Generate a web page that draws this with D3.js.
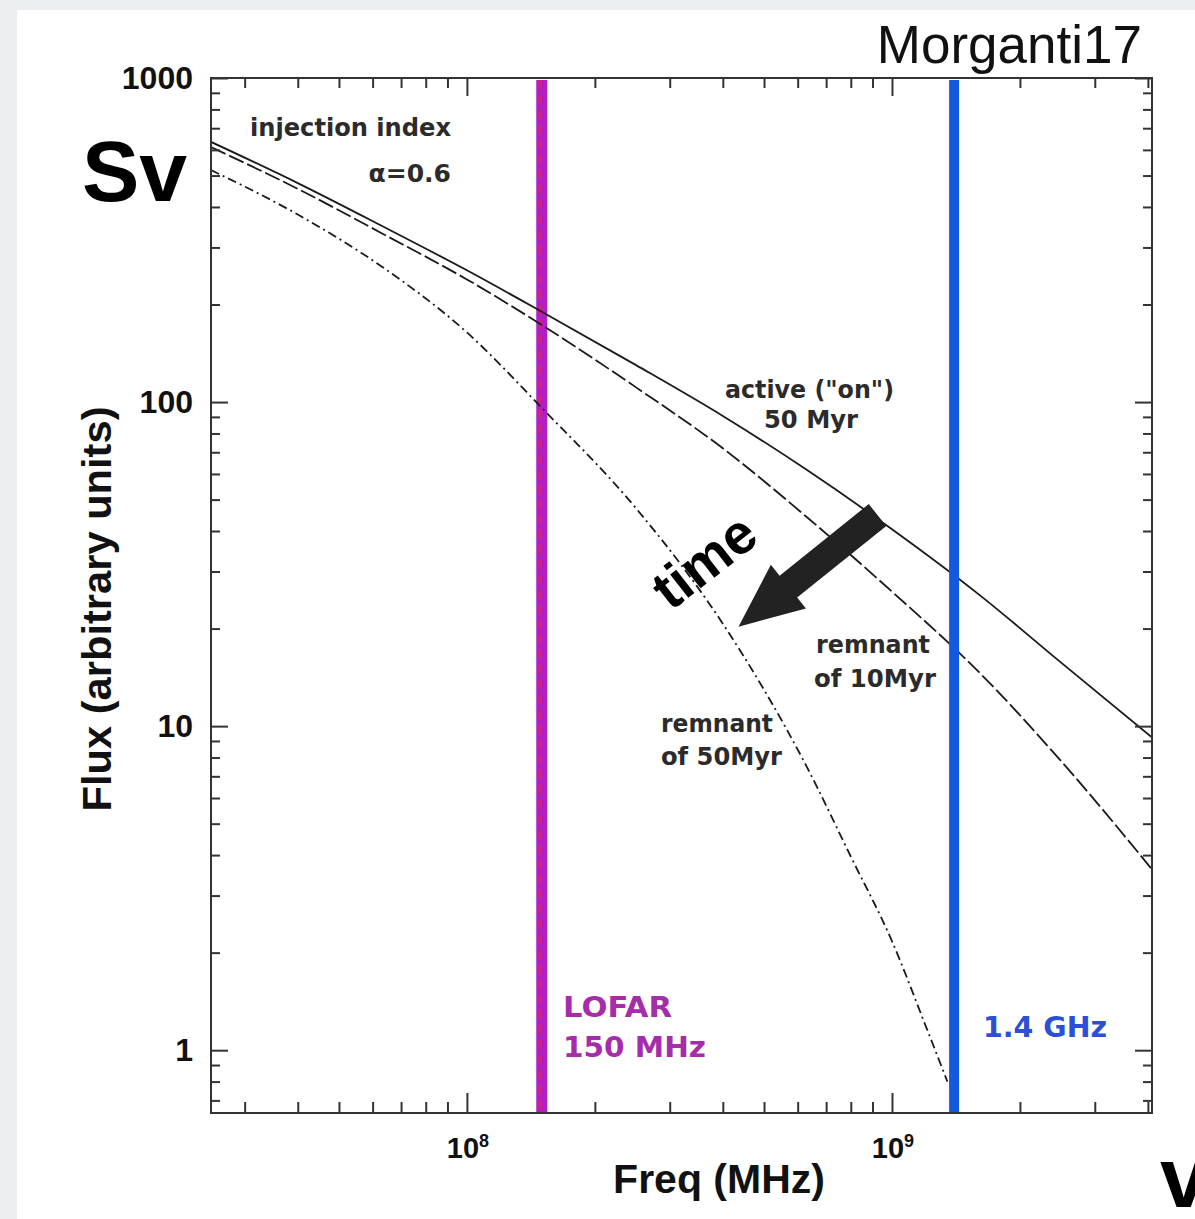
<!DOCTYPE html>
<html><head><meta charset="utf-8">
<script src="https://cdn.jsdelivr.net/npm/d3@7"></script>
<style>body{margin:0;background:#eceef1;} svg{display:block}</style>
</head><body><svg id="c" width="1195" height="1219"></svg>
<script>
// ---------- data ----------
const freqActive = [2.5e7, 4e7, 6.3e7, 1e8, 1.5e8, 2.5e8, 4e8, 6.3e8, 1e9, 1.6e9, 2.5e9, 4.1e9];
const fluxActive = [635, 474, 350, 255, 190, 130, 90.6, 61.8, 40.5, 25.5, 15.7, 9.2];
const freqRem10 = [2.5e7, 4e7, 6.3e7, 1e8, 1.5e8, 2.5e8, 4e8, 6.3e8, 1e9, 1.6e9, 2.5e9, 4.1e9];
const fluxRem10 = [612, 455, 332, 239, 173, 111, 72, 44.2, 26, 14.7, 7.8, 3.6];
const freqRem50 = [2.5e7, 4e7, 6.3e7, 1e8, 1.5e8, 2.5e8, 4e8, 6.3e8, 8e8, 1e9, 1.2e9, 1.35e9];
const fluxRem50 = [520, 379, 262, 164, 96, 47, 20.7, 7.5, 3.96, 2.17, 1.19, 0.8];
const markerFreqs = [1.5e8, 1.4e9];
const xDomain = [2.5e7, 4.09e9];
const yDomain = [0.64, 1000];
const xMajorTicks = [1e8, 1e9];
const xMajorExp = ["8", "9"];
const yMajorTicks = [1, 10, 100, 1000];
const yMajorLabels = ["1", "10", "100", "1000"];

// ---------- layout ----------
const W = 1195, H = 1219;
const P = {left: 211, top: 78, right: 1152, bottom: 1113};
const svg = d3.select('#c');
svg.append('rect').attr('width', W).attr('height', H).attr('fill', '#eceef1');
svg.append('rect').attr('x', 17).attr('y', 10).attr('width', W - 17).attr('height', H - 10).attr('fill', '#fff');

const x = d3.scaleLog().domain(xDomain).range([P.left, P.right]);
const y = d3.scaleLog().domain(yDomain).range([P.bottom, P.top]);

svg.append('clipPath').attr('id', 'clip').append('rect')
  .attr('x', P.left).attr('y', P.top).attr('width', P.right - P.left).attr('height', P.bottom - P.top);

// LOFAR band (under curves)
const lofarX = x(markerFreqs[0]);
svg.append('line').attr('x1', lofarX).attr('x2', lofarX).attr('y1', P.top + 2).attr('y2', P.bottom)
  .attr('stroke', '#b11fc4').attr('stroke-width', 11);
svg.append('line').attr('x1', lofarX - 2).attr('x2', lofarX - 2).attr('y1', P.top + 2).attr('y2', P.bottom)
  .attr('stroke', '#e4235c').attr('stroke-width', 2).attr('stroke-dasharray', '9,6');

// curves
const line = d3.line().x(d => x(d[0])).y(d => y(d[1])).curve(d3.curveMonotoneX);
const series = [
  {f: freqActive, v: fluxActive, dash: null},
  {f: freqRem10, v: fluxRem10, dash: '16,4'},
  {f: freqRem50, v: fluxRem50, dash: '9,4,2,4'}
];
const cg = svg.append('g').attr('clip-path', 'url(#clip)');
series.forEach(s => {
  cg.append('path').datum(s.f.map((f, i) => [f, s.v[i]]))
    .attr('d', line).attr('fill', 'none').attr('stroke', '#1a1a1a').attr('stroke-width', 1.8)
    .attr('stroke-dasharray', s.dash);
});

// 1.4 GHz band (over curves)
const ghzX = x(markerFreqs[1]);
svg.append('line').attr('x1', ghzX).attr('x2', ghzX).attr('y1', P.top + 2).attr('y2', P.bottom)
  .attr('stroke', '#1259e2').attr('stroke-width', 10);

// ---------- axes ----------
const isMajor = v => Math.abs(Math.log10(v) - Math.round(Math.log10(v))) < 1e-9;
const xMinor = x.ticks().filter(v => !isMajor(v));
const yMinor = y.ticks().filter(v => !isMajor(v));

function styleAxis(g) {
  g.select('.domain').remove();
  g.selectAll('line').attr('stroke', '#333').attr('stroke-width', 2);
  return g;
}
styleAxis(svg.append('g').attr('transform', `translate(0,${P.bottom})`).call(d3.axisBottom(x).tickValues(xMinor).tickSize(-11).tickFormat('')));
styleAxis(svg.append('g').attr('transform', `translate(0,${P.bottom})`).call(d3.axisBottom(x).tickValues(xMajorTicks).tickSize(-20).tickFormat('')));
styleAxis(svg.append('g').attr('transform', `translate(0,${P.top})`).call(d3.axisTop(x).tickValues(xMinor).tickSize(-10).tickFormat('')));
styleAxis(svg.append('g').attr('transform', `translate(0,${P.top})`).call(d3.axisTop(x).tickValues(xMajorTicks).tickSize(-18).tickFormat('')));
styleAxis(svg.append('g').attr('transform', `translate(${P.left},0)`).call(d3.axisLeft(y).tickValues(yMinor).tickSize(-9).tickFormat('')));
const yl = styleAxis(svg.append('g').attr('transform', `translate(${P.left},0)`)
  .call(d3.axisLeft(y).tickValues(yMajorTicks).tickSize(-17).tickPadding(18).tickFormat((d, i) => yMajorLabels[i])));
yl.attr('font-family', null).attr('font-size', null);
yl.selectAll('text').attr('font-family', '"Liberation Sans", Arial, sans-serif').attr('font-weight', 'bold')
  .attr('font-size', 32).attr('fill', '#111');
styleAxis(svg.append('g').attr('transform', `translate(${P.right},0)`).call(d3.axisRight(y).tickValues(yMinor).tickSize(-9).tickFormat('')));
styleAxis(svg.append('g').attr('transform', `translate(${P.right},0)`).call(d3.axisRight(y).tickValues(yMajorTicks).tickSize(-17).tickFormat('')));

svg.append('rect').attr('x', P.left).attr('y', P.top).attr('width', P.right - P.left).attr('height', P.bottom - P.top)
  .attr('fill', 'none').attr('stroke', '#333').attr('stroke-width', 2);

const sansB = '"Liberation Sans", Arial, Helvetica, sans-serif';
xMajorTicks.forEach((v, i) => {
  const t = svg.append('text').attr('x', x(v) + 1).attr('y', 1158).attr('text-anchor', 'middle')
    .attr('font-family', sansB).attr('font-weight', 'bold').attr('font-size', 29).attr('fill', '#111');
  t.append('tspan').text('10');
  t.append('tspan').attr('dy', -11).attr('font-size', 18).text(xMajorExp[i]);
});

// axis titles
svg.append('text').attr('x', 719).attr('y', 1193).attr('text-anchor', 'middle')
  .attr('font-family', sansB).attr('font-weight', 'bold').attr('font-size', 41).attr('fill', '#111').text('Freq (MHz)');
svg.append('text').attr('transform', 'translate(111,609) rotate(-90)').attr('text-anchor', 'middle')
  .attr('font-family', sansB).attr('font-weight', 'bold').attr('font-size', 41).attr('fill', '#111')
  .attr('textLength', 405).attr('lengthAdjust', 'spacingAndGlyphs').text('Flux (arbitrary units)');

// big overlay labels
svg.append('text').attr('x', 82).attr('y', 201).attr('font-family', sansB).attr('font-weight', 'bold')
  .attr('font-size', 86).attr('fill', '#000').text('Sv');
svg.append('text').attr('x', 1160).attr('y', 1207).attr('font-family', sansB).attr('font-weight', 'bold')
  .attr('font-size', 86).attr('fill', '#000').text('v');
svg.append('text').attr('x', 1142).attr('y', 63).attr('text-anchor', 'end').attr('font-family', sansB)
  .attr('font-size', 53).attr('fill', '#111').text('Morganti17');

// annotations
const annFont = '"DejaVu Sans", Verdana, sans-serif';
function ann(txt, ax, ay, size, len, color, anchor) {
  const t = svg.append('text').attr('x', ax).attr('y', ay).attr('font-family', annFont).attr('font-weight', 'bold')
    .attr('font-size', size).attr('fill', color || '#2b2b2b').attr('text-anchor', anchor || 'start').text(txt);
  if (len) t.attr('textLength', len).attr('lengthAdjust', 'spacingAndGlyphs');
}
ann('injection index', 250, 136, 24, 201);
ann('α=0.6', 451, 182, 25, null, null, 'end');
ann('active ("on")', 725, 398, 24, 169);
ann('50 Myr', 764, 428, 24, 94);
ann('remnant', 816, 653, 24, 114);
ann('of 10Myr', 814, 687, 24, 122);
ann('remnant', 661, 732, 24, 112);
ann('of 50Myr', 661, 765, 24, 121);
ann('LOFAR', 563, 1017, 29, 109, '#a52caa');
ann('150 MHz', 563, 1057, 29, 143, '#a52caa');
ann('1.4 GHz', 983, 1037, 28, 124, '#2b4fd6');

// time arrow
const tail = [877.5, 515], tip = [738.5, 626.7];
const dx = tip[0] - tail[0], dy = tip[1] - tail[1], L = Math.hypot(dx, dy);
const ux = dx / L, uy = dy / L, nx = -uy, ny = ux;
const sw = 14, hw = 28, hl = 64;
const hb = [tip[0] - ux * hl, tip[1] - uy * hl];
const pts = [
  [tail[0] + nx * sw, tail[1] + ny * sw],
  [hb[0] + nx * sw, hb[1] + ny * sw],
  [hb[0] + nx * hw, hb[1] + ny * hw],
  tip,
  [hb[0] - nx * hw, hb[1] - ny * hw],
  [hb[0] - nx * sw, hb[1] - ny * sw],
  [tail[0] - nx * sw, tail[1] - ny * sw]
];
svg.append('polygon').attr('points', pts.map(p => p.join(',')).join(' ')).attr('fill', '#222');
svg.append('text').attr('transform', 'translate(704,561) rotate(-38)').attr('text-anchor', 'middle')
  .attr('dominant-baseline', 'central').attr('font-family', sansB).attr('font-weight', 'bold')
  .attr('font-size', 56).attr('fill', '#000').text('time');
</script></body></html>
